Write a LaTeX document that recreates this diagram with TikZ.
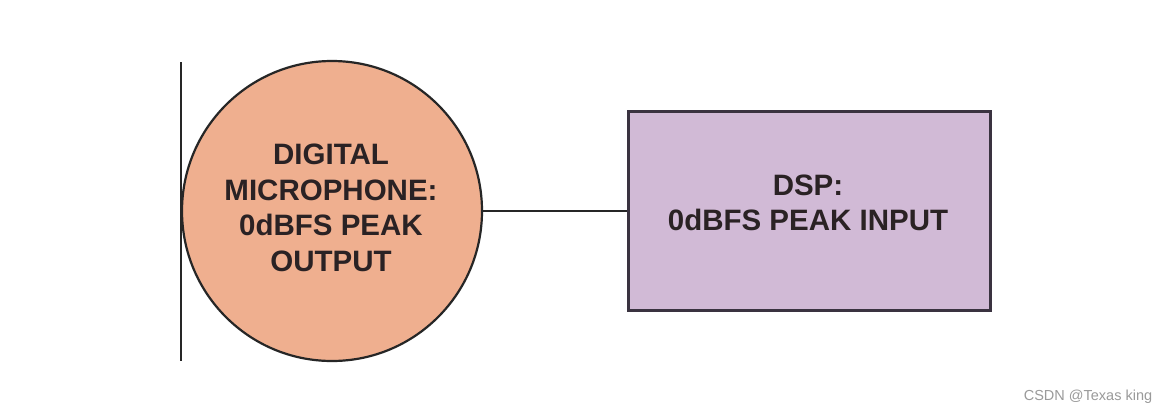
\documentclass[tikz,border=0pt]{standalone}
\usepackage{fontspec}
\setmainfont{Liberation Sans}
\definecolor{micfill}{HTML}{EFAF8F}
\definecolor{dspfill}{HTML}{D1BAD6}
\definecolor{dspline}{HTML}{3A3340}
\definecolor{txt}{HTML}{2A2224}
\definecolor{wm}{HTML}{9A9A9A}
\begin{document}
\begin{tikzpicture}[x=1pt,y=-1pt,
  lbl/.style={text=txt,font=\bfseries\fontsize{29.5}{35.5}\selectfont,align=center,inner sep=0pt},
  mic/.style={circle,draw=black!85,line width=2.2pt,fill=micfill,minimum size=300pt,inner sep=0pt},
  dsp/.style={rectangle,draw=dspline,line width=2.6pt,fill=dspfill,minimum width=362pt,minimum height=199pt,inner sep=0pt},
  wire/.style={draw=black!85,line width=2pt}]
\useasboundingbox (0,0) rectangle (1170,415);
\fill[white] (0,0) rectangle (1170,415);
\coordinate (vt) at (181,62);
\coordinate (vb) at (181,361);
\draw[wire] (vt) -- (vb);
\node[mic] (mic) at (332,211) {};
\node[dsp] (dsp) at (809.5,211) {};
\draw[wire] (mic.east) -- (dsp.west);
\node[lbl] (mictext) at (331,208) {DIGITAL\\MICROPHONE:\\0dBFS PEAK\\OUTPUT};
\node[lbl] (dsptext) at (808,203) {DSP:\\0dBFS PEAK INPUT};
\node[text=wm,font=\fontsize{14.5}{16}\selectfont,inner sep=0pt] (wmark) at (1088,397) {CSDN @Texas king};
\end{tikzpicture}
\end{document}
